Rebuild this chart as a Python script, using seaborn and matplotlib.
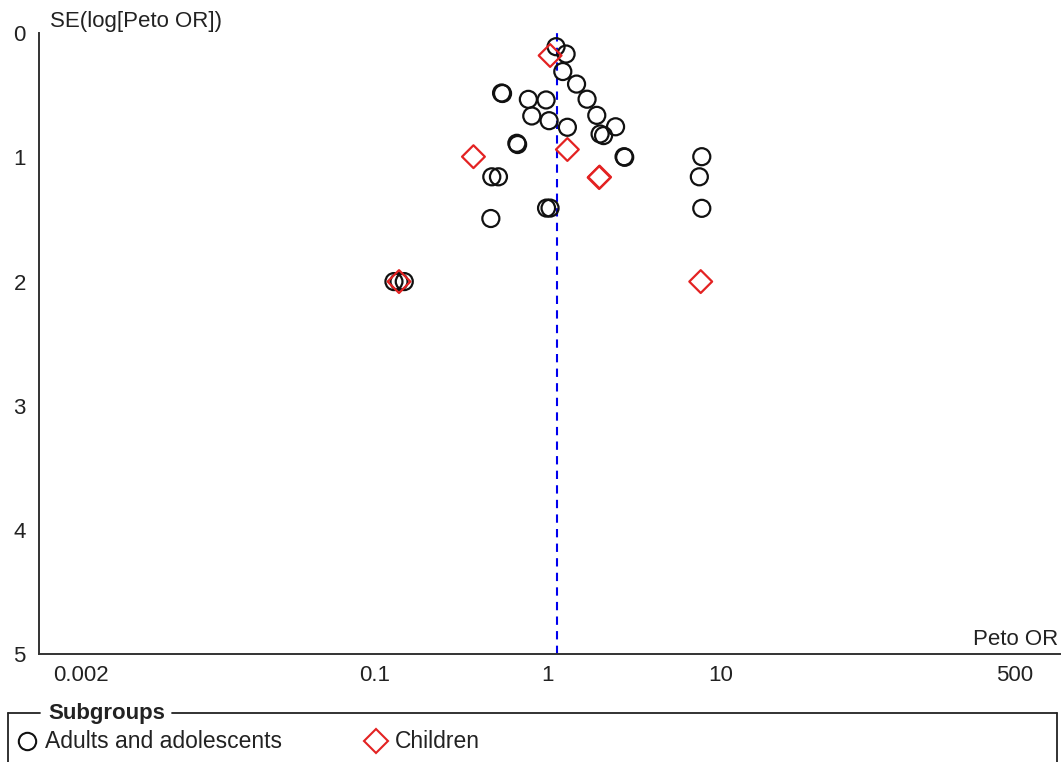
import numpy as np
import pandas as pd
import matplotlib
matplotlib.use("Agg")
import matplotlib.pyplot as plt
from matplotlib.lines import Line2D
from matplotlib.ticker import NullLocator
import seaborn as sns

# ---- data ----
adults_or = [1.118, 1.278, 1.223, 1.469, 1.690, 1.923, 2.47, 2.01, 2.105,
             0.541, 0.548, 0.773, 0.979, 0.809, 1.019, 1.300, 0.663, 0.670,
             2.766, 2.79, 0.475, 0.519, 0.985, 1.032, 0.469, 7.79, 7.54, 7.79,
             0.129, 0.138, 0.148]
adults_se = [0.108, 0.167, 0.308, 0.409, 0.531, 0.661, 0.753, 0.811, 0.824,
             0.481, 0.485, 0.532, 0.537, 0.666, 0.704, 0.757, 0.886, 0.896,
             0.994, 0.999, 1.156, 1.156, 1.408, 1.408, 1.492, 0.994, 1.156, 1.410,
             2.0, 2.0, 2.0]
children_or = [1.033, 0.372, 1.30, 1.984, 1.996, 0.138, 7.68]
children_se = [0.179, 0.994, 0.936, 1.162, 1.158, 2.0, 2.0]
pooled_or = 1.135

x_ticks = [0.002, 0.1, 1, 10, 500]
x_tick_labels = ["0.002", "0.1", "1", "10", "500"]
y_ticks = [0, 1, 2, 3, 4, 5]
group_names = ["Adults and adolescents", "Children"]

W, H = 1063, 762
sns.set_style("white")
plt.rcParams["font.family"] = ["Liberation Sans", "DejaVu Sans"]
TXT = "#222222"

fig = plt.figure(figsize=(W / 100, H / 100), dpi=100)
ax_l, ax_r, ax_t, ax_b = 39, 1060, 33.3, 654
ax = fig.add_axes([ax_l / W, 1 - ax_b / H, (ax_r - ax_l) / W, (ax_b - ax_t) / H])

adults = pd.DataFrame({"OR": adults_or, "SE": adults_se, "group": group_names[0]})
children = pd.DataFrame({"OR": children_or, "SE": children_se, "group": group_names[1]})

circ_col = "#111111"
dia_col = "#e32222"

sns.scatterplot(data=adults, x="OR", y="SE", marker="o", s=150, color=circ_col,
                ax=ax, legend=False, zorder=3)
c = ax.collections[-1]
c.set_facecolor("none"); c.set_edgecolor(circ_col); c.set_linewidth(1.6)

sns.scatterplot(data=children, x="OR", y="SE", marker="D", s=135, color=dia_col,
                ax=ax, legend=False, zorder=4)
c = ax.collections[-1]
c.set_facecolor("none"); c.set_edgecolor(dia_col); c.set_linewidth(1.6)

ax.axvline(pooled_or, color="#0000ee", lw=1.5, ls=(0, (4, 3)), zorder=2)

ax.set_xscale("log")
ax.set_xlim(10 ** -2.943, 10 ** 2.964)
ax.set_ylim(5, 0)
ax.set_xticks(x_ticks)
ax.set_xticklabels(x_tick_labels)
ax.xaxis.set_minor_locator(NullLocator())
ax.set_yticks(y_ticks)
ax.set_yticklabels([str(v) for v in y_ticks])
ax.set_xlabel("")
ax.set_ylabel("")

for s in ["top", "right"]:
    ax.spines[s].set_visible(False)
for s in ["left", "bottom"]:
    ax.spines[s].set_color("#333333")
    ax.spines[s].set_linewidth(1.4)
ax.tick_params(axis="x", direction="inout", length=10, width=1.3, pad=3,
               labelsize=16, colors="#333333", labelcolor=TXT)
ax.tick_params(axis="y", direction="out", length=6.5, width=1.3, pad=3,
               labelsize=16, colors="#333333", labelcolor=TXT)
ax.grid(False)

def fx(px):
    return px / W

def fy(py):
    return 1 - py / H

fig.text(fx(50), fy(27), "SE(log[Peto OR])", fontsize=16, color=TXT,
         ha="left", va="baseline")
fig.text(fx(1058), fy(645), "Peto OR", fontsize=16, color=TXT,
         ha="right", va="baseline")

# legend box
lc = "#222222"
fig.add_artist(Line2D([fx(8), fx(40)], [fy(713), fy(713)], color=lc, lw=1.3))
fig.add_artist(Line2D([fx(172), fx(1057)], [fy(713), fy(713)], color=lc, lw=1.3))
fig.add_artist(Line2D([fx(8), fx(8)], [fy(713), fy(762)], color=lc, lw=1.3))
fig.add_artist(Line2D([fx(1057), fx(1057)], [fy(713), fy(762)], color=lc, lw=1.3))
fig.text(fx(48), fy(719), "Subgroups", fontsize=16, fontweight="bold", color=TXT,
         ha="left", va="baseline")
fig.add_artist(Line2D([fx(27)], [fy(741)], marker="o", markersize=12.5, mfc="none",
                      mec=circ_col, mew=1.5, ls="none"))
fig.text(fx(45), fy(747.5), group_names[0], fontsize=16.5, color=TXT,
         ha="left", va="baseline")
fig.add_artist(Line2D([fx(376)], [fy(741)], marker="D", markersize=12, mfc="none",
                      mec=dia_col, mew=1.5, ls="none"))
fig.text(fx(395), fy(747.5), group_names[1], fontsize=16.5, color=TXT,
         ha="left", va="baseline")

fig.savefig("out.png", dpi=100)
